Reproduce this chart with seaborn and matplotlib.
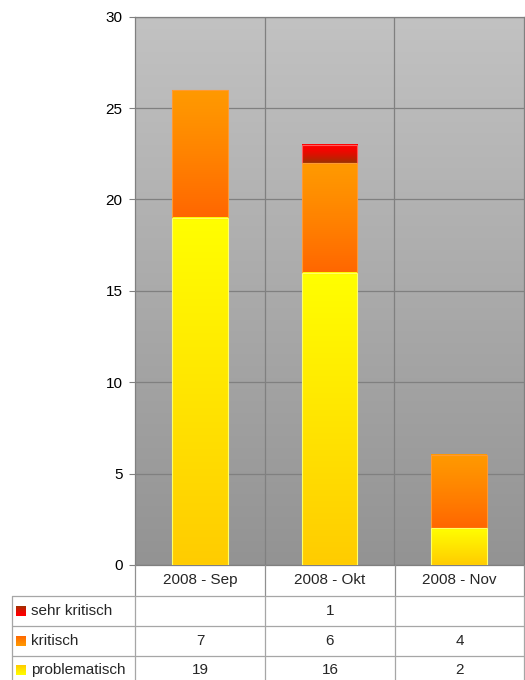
import numpy as np
import pandas as pd
import matplotlib
matplotlib.use("Agg")
import matplotlib.pyplot as plt
import matplotlib.colors as mcolors
from matplotlib.patches import Rectangle
import seaborn as sns

# Monthly counts per severity level
months = ["2008 - Sep", "2008 - Okt", "2008 - Nov"]
series_names = ["sehr kritisch", "kritisch", "problematisch"]
sehr_kritisch = [0, 1, 0]
kritisch = [7, 6, 4]
problematisch = [19, 16, 2]
y_ticks = [0, 5, 10, 15, 20, 25, 30]

# top colour, bottom colour, outline colour, gradient curve of each segment
styles = {
    "sehr kritisch": ("#ff0000", "#993300", "#ff5a5a", 1.8),
    "kritisch": ("#ff9900", "#ff6600", "#ff9a33", 1.2),
    "problematisch": ("#ffff00", "#ffcc00", "#ffff66", 1.0),
}

sns.set_style("white")
plt.rcParams["font.family"] = ["Liberation Sans", "DejaVu Sans"]
FS = 11
plt.rcParams["font.size"] = FS

W, H = 525, 680
fig = plt.figure(figsize=(W / 100, H / 100), dpi=100)
ax = fig.add_axes([135 / W, (H - 565) / H, (524 - 135) / W, (565 - 16.7) / H])


def gradient(top, bottom, gamma=1.0, n=256):
    c0 = np.array(mcolors.to_rgb(top))
    c1 = np.array(mcolors.to_rgb(bottom))
    t = (np.linspace(0, 1, n) ** gamma)[:, None]
    return (c0 * (1 - t) + c1 * t)[:, None, :]


# Plot background: light grey at top, darker at bottom
ax.imshow(gradient("#c2c2c2", "#939393"), extent=[-0.5, 2.5, 0, 30],
          aspect="auto", origin="upper", zorder=0, interpolation="bilinear")

df = pd.DataFrame({
    "month": months,
    "problematisch": problematisch,
    "kritisch": kritisch,
    "sehr kritisch": sehr_kritisch,
})
df["lvl1"] = df["problematisch"]
df["lvl2"] = df["lvl1"] + df["kritisch"]
df["lvl3"] = df["lvl2"] + df["sehr kritisch"]

bar_w = 0.43
layers = [("lvl3", "lvl2", "sehr kritisch"),
          ("lvl2", "lvl1", "kritisch"),
          ("lvl1", None, "problematisch")]
for top_col, low_col, name in layers:
    n0 = len(ax.patches)
    c_top, c_bot, c_edge, gam = styles[name]
    sns.barplot(data=df, x="month", y=top_col, order=months, color=c_top,
                width=bar_w, ax=ax, zorder=2, saturation=1)
    new = ax.patches[n0:]
    for i, p in enumerate(new):
        hi = df[top_col].iloc[i]
        lo = 0 if low_col is None else df[low_col].iloc[i]
        p.set_visible(False)
        if hi - lo <= 0:
            continue
        x0 = p.get_x()
        x1 = x0 + p.get_width()
        ax.imshow(gradient(c_top, c_bot, gam), extent=[x0, x1, lo, hi],
                  aspect="auto", origin="upper", zorder=3,
                  interpolation="bilinear")
        ax.add_patch(Rectangle((x0, lo), x1 - x0, hi - lo, fill=False,
                               edgecolor=c_edge, lw=0.8, zorder=4))

ax.set_xlim(-0.5, 2.5)
ax.set_ylim(0, 30)
ax.set_xlabel("")
ax.set_ylabel("")
ax.set_xticks([])
ax.set_yticks(y_ticks)
ax.tick_params(axis="y", left=True, length=4, width=0.8, color="#808080",
               pad=5, labelsize=FS, labelcolor="#000000")
ax.set_axisbelow(True)
ax.yaxis.grid(True, color="#808080", lw=0.9)
for xv in [0.5, 1.5]:
    ax.axvline(xv, color="#808080", lw=0.9, zorder=0.6)
for s in ax.spines.values():
    s.set_visible(True)
    s.set_color("#808080")
    s.set_linewidth(0.9)

# Data table under the plot, laid out in pixel units
tb = fig.add_axes([0, 0, 1, (H - 565) / H])
tb.set_xlim(0, W)
tb.set_ylim(H, 565)
tb.axis("off")
line_c = "#a6a6a6"
col_x = [135, 265, 395, 524]
row_y = [565, 596, 626, 656, 690]

# header row
for x in col_x:
    tb.plot([x, x], [565, 596], color="#909090", lw=0.9)
for j, m in enumerate(months):
    tb.text((col_x[j] + col_x[j + 1]) / 2, 580, m, ha="center", va="center",
            fontsize=FS)
# body rows
for y in row_y[1:4]:
    tb.plot([12, 524], [y, y], color=line_c, lw=0.9)
for x in [12] + col_x:
    tb.plot([x, x], [596, 690], color=line_c, lw=0.9)

values = {"sehr kritisch": sehr_kritisch, "kritisch": kritisch,
          "problematisch": problematisch}
for r, name in enumerate(series_names):
    yc = (row_y[r + 1] + row_y[r + 2]) / 2
    if r == 2:
        yc = 670
    c_top, c_bot, _, gam = styles[name]
    tb.imshow(gradient(c_top, c_bot, gam), extent=[16, 26, yc + 5, yc - 5],
              aspect="auto", origin="lower", interpolation="bilinear")
    tb.text(31, yc, name, ha="left", va="center", fontsize=FS)
    for j, v in enumerate(values[name]):
        if v == 0:
            continue
        tb.text((col_x[j] + col_x[j + 1]) / 2, yc, str(v), ha="center",
                va="center", fontsize=FS)
tb.set_xlim(0, W)
tb.set_ylim(H, 565)

fig.savefig("out.png", dpi=100)
